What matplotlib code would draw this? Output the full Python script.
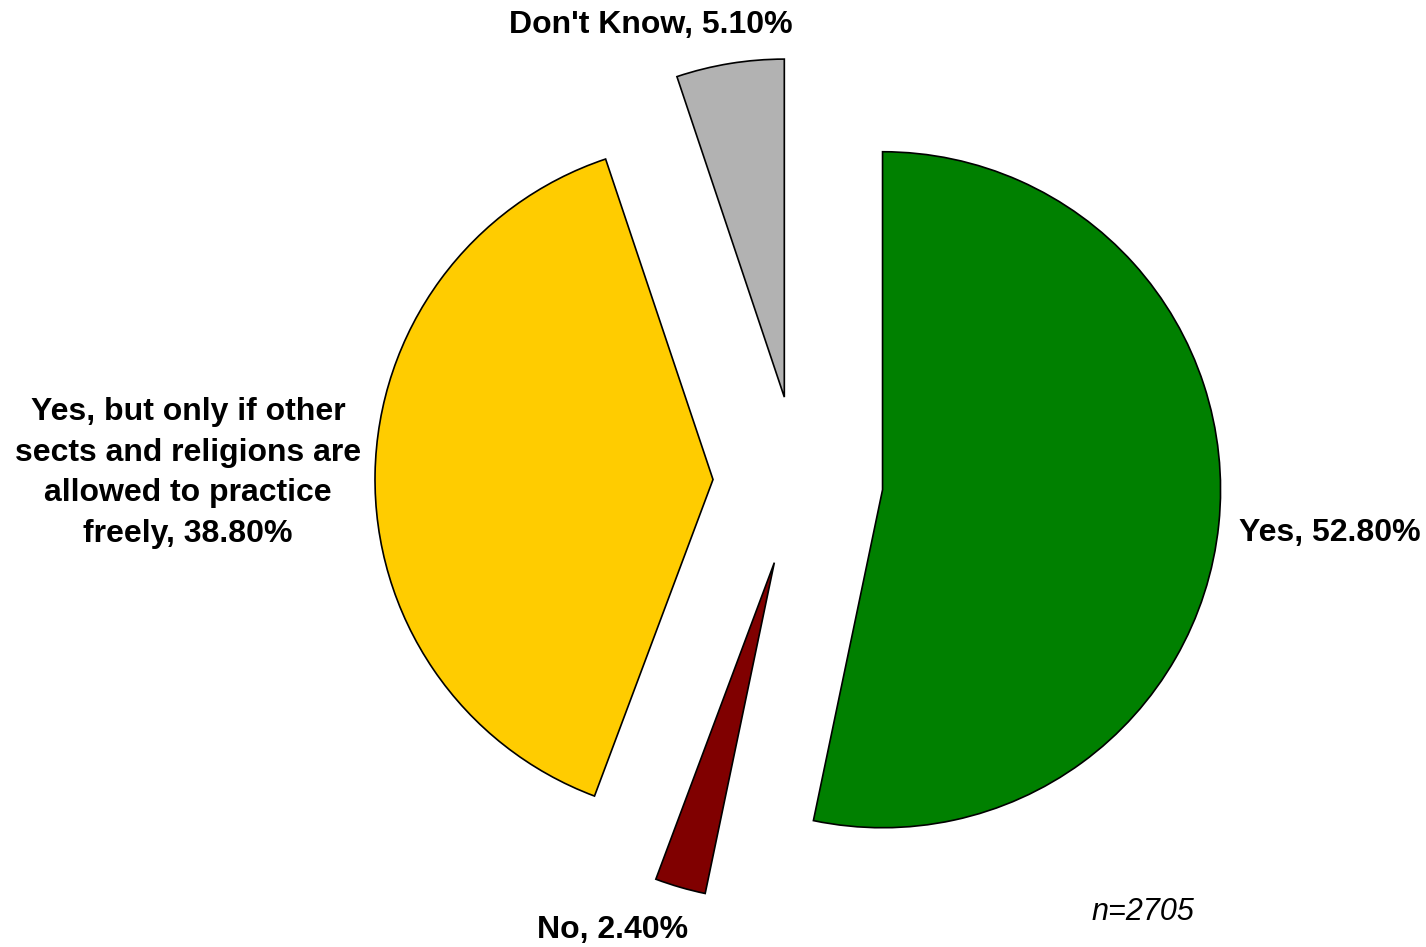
import matplotlib.pyplot as plt

# survey answers, clockwise from 12 o'clock
labels = ["Yes", "No",
          "Yes, but only if other\nsects and religions are\nallowed to practice\nfreely",
          "Don't Know"]
values = [52.8, 2.4, 38.8, 5.1]
colors = ["#008000", "#800000", "#FFCC00", "#B2B2B2"]
n_total = 2705

# label anchor points (pixels from top-left)
label_pos = [(1330, 533), (613, 930), (188, 473), (651, 25)]

W, H = 1426, 947
fig = plt.figure(figsize=(W / 100, H / 100), dpi=100)
ax = fig.add_axes([0, 0, 1, 1])

# explode is in data units here (axes are in pixels)
ax.pie(values, colors=colors, startangle=90, counterclock=False,
       center=(798, H - 481), radius=338, explode=[85] * len(values),
       wedgeprops=dict(edgecolor="black", linewidth=1.2), frame=True)
ax.set_xlim(0, W)
ax.set_ylim(0, H)
ax.set_aspect("equal")
ax.axis("off")

for lab, v, (px, py) in zip(labels, values, label_pos):
    ax.text(px, H - py, f"{lab}, {v:.2f}%", ha="center", va="center",
            fontsize=23, fontweight="bold", linespacing=1.47,
            family=['Liberation Sans', 'DejaVu Sans'])

ax.text(1143, H - 912, f"n={n_total}", ha="center", va="center",
        fontsize=22, style="italic", family=['Liberation Sans Narrow', 'Liberation Sans'])

fig.savefig("out.png", dpi=100, facecolor="white")
